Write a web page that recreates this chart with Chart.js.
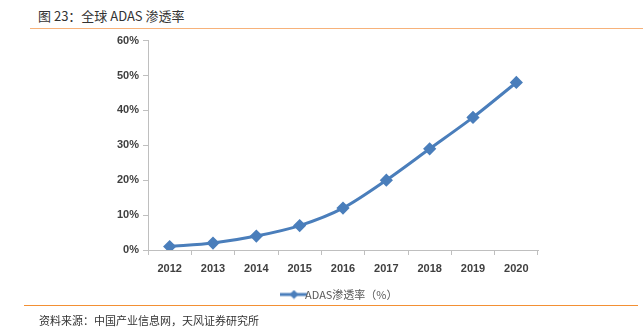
<!DOCTYPE html>
<html>
<head>
<meta charset="utf-8">
<script src="https://cdn.jsdelivr.net/npm/chart.js@4"></script>
<style>
  html, body { margin: 0; padding: 0; background: #fff; }
  body { width: 643px; height: 331px; position: relative; overflow: hidden;
         font-family: "Noto Sans CJK SC", "Noto Sans", sans-serif; }
  #title { position: absolute; left: 38px; top: 6px; font-size: 13px; color: #333; }
  #topLine { position: absolute; left: 30px; right: 0; top: 28px; height: 1px; background: #f7b27a; }
  #wrap { position: absolute; left: 0; top: 30px; width: 643px; height: 280px; }
  #bottomLine { position: absolute; left: 24px; width: 614px; top: 305px; height: 1px; background: #f39034; }
  #source { position: absolute; left: 39px; top: 312px; font-size: 11px; color: #333; }
</style>
</head>
<body>
<div id="title">图 23：全球 ADAS 渗透率</div>
<div id="topLine"></div>
<div id="wrap"><canvas id="adasChart"></canvas></div>
<div id="bottomLine"></div>
<div id="source">资料来源：中国产业信息网，天风证券研究所</div>
<script>
// ADAS penetration chart
const years = ['2012', '2013', '2014', '2015', '2016', '2017', '2018', '2019', '2020'];
const penetration = [1, 2, 4, 7, 12, 20, 29, 38, 48];
const yTicks = [0, 10, 20, 30, 40, 50, 60];
const seriesName = 'ADAS渗透率（%）';

document.addEventListener('DOMContentLoaded', () => {
    const lineColor = '#4a7ebb';

    // legend marker: short line with a diamond in the middle
    const marker = document.createElement('canvas');
    marker.width = 27; marker.height = 10;
    const m = marker.getContext('2d');
    m.strokeStyle = lineColor; m.lineWidth = 3;
    m.beginPath(); m.moveTo(0, 5); m.lineTo(27, 5); m.stroke();
    m.fillStyle = lineColor;
    m.beginPath(); m.moveTo(13.5, 0.5); m.lineTo(18, 5); m.lineTo(13.5, 9.5); m.lineTo(9, 5); m.closePath(); m.fill();

    const tickFont = { family: 'Liberation Sans', size: 11, weight: 'bold' };

    new Chart(document.getElementById('adasChart'), {
        type: 'line',
        data: {
            labels: years,
            datasets: [{
                label: seriesName,
                data: penetration,
                borderColor: lineColor,
                backgroundColor: lineColor,
                borderWidth: 3,
                tension: 0.3,
                pointStyle: 'rectRot',
                pointRadius: 4.5,
                pointHoverRadius: 4.5
            }]
        },
        options: {
            responsive: true,
            maintainAspectRatio: false,
            animation: false,
            layout: { padding: { left: 102, right: 105, top: 8, bottom: 0 } },
            scales: {
                x: {
                    offset: true,
                    grid: { offset: true, drawOnChartArea: false, tickLength: 5, color: '#bfbfbf' },
                    border: { color: '#bfbfbf' },
                    ticks: { color: '#404040', font: tickFont, padding: 7, maxRotation: 0 },
                    afterFit: (s) => { s.height = 37; }
                },
                y: {
                    min: 0,
                    max: 60,
                    afterBuildTicks: (s) => { s.ticks = yTicks.map(v => ({ value: v })); },
                    grid: { drawOnChartArea: false, tickLength: 5, color: '#bfbfbf' },
                    border: { color: '#bfbfbf' },
                    ticks: { color: '#404040', font: tickFont, padding: 4, callback: v => v + '%' },
                    afterFit: (s) => { s.width = 46; }
                }
            },
            plugins: {
                tooltip: { enabled: false },
                legend: {
                    position: 'bottom',
                    fullSize: false,
                    labels: {
                        color: '#595959',
                        font: { family: 'Noto Sans CJK SC', size: 11 },
                        padding: 2,
                        usePointStyle: true,
                        generateLabels: (chart) => chart.data.datasets.map((ds, i) => ({
                            text: ds.label,
                            pointStyle: marker,
                            fontColor: '#595959',
                            datasetIndex: i,
                            lineWidth: 0,
                            strokeStyle: 'transparent',
                            fillStyle: lineColor
                        }))
                    }
                }
            }
        }
    });
});
</script>
</body>
</html>
